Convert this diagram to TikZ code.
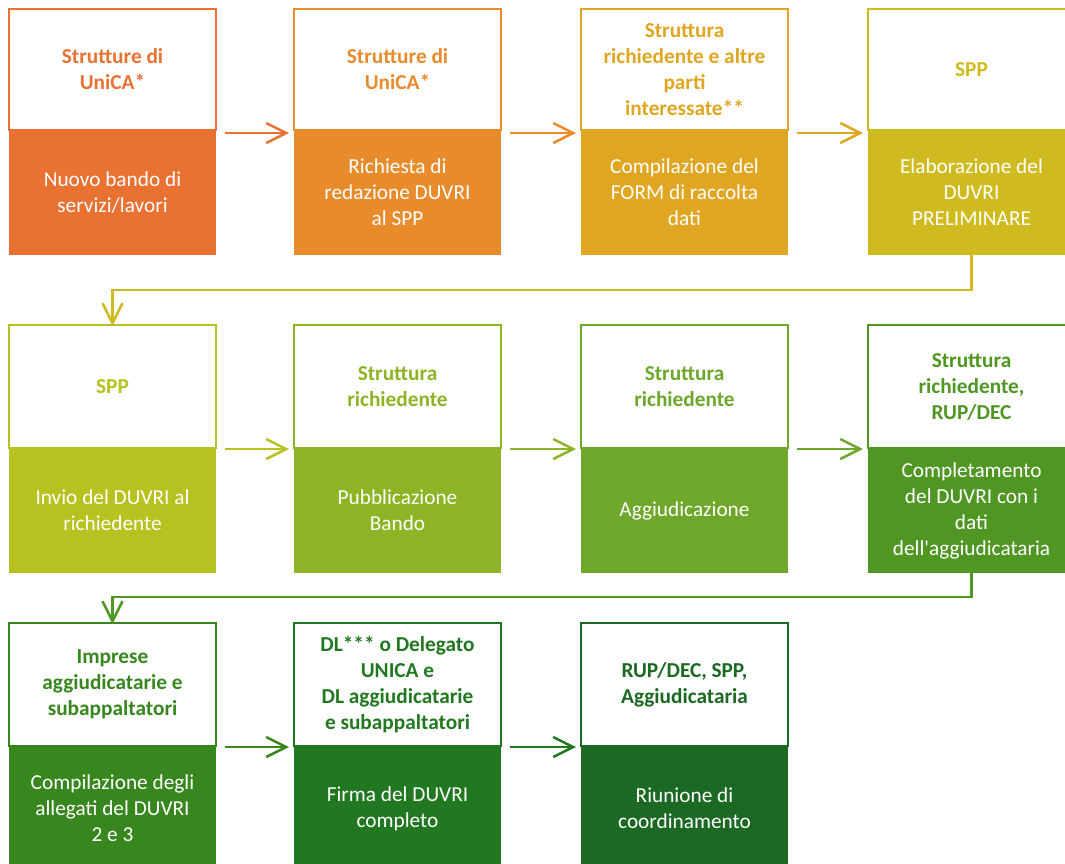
\documentclass[tikz,border=0pt]{standalone}
\usepackage{fontspec}
\setmainfont{Carlito}[Ligatures=TeXOff]
\usetikzlibrary{arrows.meta}
\definecolor{c1}{HTML}{E97132}
\definecolor{c2}{HTML}{E88B2B}
\definecolor{c3}{HTML}{E0A621}
\definecolor{c4}{HTML}{CFBB1F}
\definecolor{c5}{HTML}{B7C220}
\definecolor{c6}{HTML}{8DB424}
\definecolor{c7}{HTML}{6EA72A}
\definecolor{c8}{HTML}{4F9622}
\definecolor{c9}{HTML}{37871E}
\definecolor{c10}{HTML}{217820}
\definecolor{c11}{HTML}{1B6923}
\tikzset{
  hd/.style={draw=#1, line width=2.5pt, fill=white, minimum width=207pt, minimum height=121pt,
    inner sep=0pt, outer sep=0pt, text=#1, align=center,
    font=\bfseries\fontsize{21.3}{26}\selectfont},
  bd/.style={fill=#1, minimum width=207pt, minimum height=125pt, inner sep=0pt, outer sep=0pt,
    text=white, align=center, anchor=north, font=\fontsize{21.3}{26}\selectfont},
  arr/.style={draw=#1, line width=2.5pt, -{Straight Barb[length=20pt,width=20pt,line width=2.5pt]}},
}
\begin{document}
\begin{tikzpicture}[x=1pt,y=-1pt]
\useasboundingbox (0,0) rectangle (1065,863);
\clip (0,0) rectangle (1065,863);
% row 1
\node[hd=c1] (h1) at (112.5,69.5) {Strutture di\\UniCA*};
\node[bd=c1] (b1) at (h1.south) {Nuovo bando di\\servizi/lavori};
\node[hd=c2] (h2) at (397.5,69.5) {Strutture di\\UniCA*};
\node[bd=c2] (b2) at (h2.south) {Richiesta di\\redazione DUVRI\\al SPP};
\node[hd=c3] (h3) at (684.5,69.5) {Struttura\\richiedente e altre\\parti\\interessate**};
\node[bd=c3] (b3) at (h3.south) {Compilazione del\\FORM di raccolta\\dati};
\node[hd=c4] (h4) at (971.5,69.5) {SPP};
\node[bd=c4] (b4) at (h4.south) {Elaborazione del\\DUVRI\\PRELIMINARE};
% row 2
\node[hd=c5, minimum height=123pt] (h5) at (112.5,386.5) {SPP};
\node[bd=c5] (b5) at (h5.south) {Invio del DUVRI al\\richiedente};
\node[hd=c6, minimum height=123pt] (h6) at (397.5,386.5) {Struttura\\richiedente};
\node[bd=c6] (b6) at (h6.south) {Pubblicazione\\Bando};
\node[hd=c7, minimum height=123pt] (h7) at (684.5,386.5) {Struttura\\richiedente};
\node[bd=c7] (b7) at (h7.south) {Aggiudicazione};
\node[hd=c8, minimum height=123pt] (h8) at (971.5,386.5) {Struttura\\richiedente,\\RUP/DEC};
\node[bd=c8] (b8) at (h8.south) {Completamento\\del DUVRI con i\\dati\\dell'aggiudicataria};
% row 3
\node[hd=c9, minimum height=123pt] (h9) at (112.5,684.5) {Imprese\\aggiudicatarie e\\subappaltatori};
\node[bd=c9] (b9) at (h9.south) {Compilazione degli\\allegati del DUVRI\\2 e 3};
\node[hd=c10, minimum height=123pt] (h10) at (397.5,684.5) {DL*** o Delegato\\UNICA e\\DL aggiudicatarie\\e subappaltatori};
\node[bd=c10] (b10) at (h10.south) {Firma del DUVRI\\completo};
\node[hd=c11, minimum height=123pt] (h11) at (684.5,684.5) {RUP/DEC, SPP,\\Aggiudicataria};
\node[bd=c11] (b11) at (h11.south) {Riunione di\\coordinamento};
% arrows row 1
\draw[arr=c1] ([xshift=9pt,yshift=-3pt]h1.south east) -- ([xshift=-5pt,yshift=-3pt]h2.south west);
\draw[arr=c2] ([xshift=9pt,yshift=-3pt]h2.south east) -- ([xshift=-5pt,yshift=-3pt]h3.south west);
\draw[arr=c3] ([xshift=9pt,yshift=-3pt]h3.south east) -- ([xshift=-5pt,yshift=-3pt]h4.south west);
\draw[arr=c4] (b4.south) -- ++(0,35) -| ([yshift=-1pt]h5.north);
% arrows row 2
\draw[arr=c5] ([xshift=9pt,yshift=-1pt]h5.south east) -- ([xshift=-5pt,yshift=-1pt]h6.south west);
\draw[arr=c6] ([xshift=9pt,yshift=-1pt]h6.south east) -- ([xshift=-5pt,yshift=-1pt]h7.south west);
\draw[arr=c7] ([xshift=9pt,yshift=-1pt]h7.south east) -- ([xshift=-5pt,yshift=-1pt]h8.south west);
\draw[arr=c8] (b8.south) -- ++(0,24) -| ([yshift=-1pt]h9.north);
% arrows row 3
\draw[arr=c9] ([xshift=9pt,yshift=-1pt]h9.south east) -- ([xshift=-5pt,yshift=-1pt]h10.south west);
\draw[arr=c10] ([xshift=9pt,yshift=-1pt]h10.south east) -- ([xshift=-5pt,yshift=-1pt]h11.south west);
\end{tikzpicture}
\end{document}
